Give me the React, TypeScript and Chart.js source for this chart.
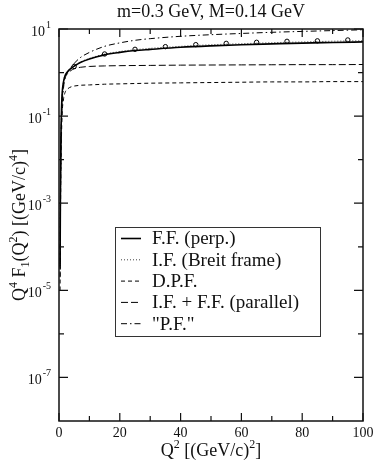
import React, { useEffect, useRef } from "react";
import { Chart, registerables } from "chart.js";

Chart.register(...registerables);

const TITLE = "m=0.3 GeV, M=0.14 GeV";
const Q2 = [0.35, 0.45, 0.6, 0.8, 1, 1.5, 2, 3, 4, 5, 7, 10, 15, 20, 25, 30, 40, 50, 60, 70, 80, 90, 100];
const FF_PERP = [3.5e-5, 1e-3, 0.02, 0.12, 0.3, 0.62, 0.85, 1.08, 1.25, 1.4, 1.7, 2.05, 2.55, 2.9, 3.2, 3.4, 3.8, 4.1, 4.35, 4.55, 4.75, 4.9, 5.05];
const IF_BREIT = [3.5e-5, 1e-3, 0.02, 0.12, 0.3, 0.63, 0.86, 1.1, 1.27, 1.42, 1.74, 2.12, 2.65, 3.05, 3.35, 3.6, 4.0, 4.35, 4.6, 4.85, 5.05, 5.25, 5.4];
const DPF = [1e-5, 2e-4, 4e-3, 0.03, 0.1, 0.25, 0.35, 0.43, 0.47, 0.49, 0.51, 0.52, 0.54, 0.55, 0.56, 0.57, 0.58, 0.59, 0.6, 0.61, 0.61, 0.62, 0.62];
const IF_FF_PAR = [3e-5, 8e-4, 0.015, 0.08, 0.2, 0.55, 0.75, 0.98, 1.12, 1.22, 1.32, 1.38, 1.42, 1.44, 1.45, 1.46, 1.48, 1.49, 1.5, 1.51, 1.52, 1.52, 1.53];
const PF = [2e-5, 5e-4, 0.01, 0.06, 0.15, 0.45, 0.74, 1.05, 1.35, 1.63, 2.2, 2.9, 4.0, 4.8, 5.5, 6.0, 6.8, 7.4, 7.9, 8.4, 8.8, 9.2, 9.6];
const CIRCLE_Q2 = [5, 15, 25, 35, 45, 55, 65, 75, 85, 95];
const CIRCLE_VAL = [1.38, 2.67, 3.42, 3.93, 4.37, 4.68, 4.95, 5.22, 5.35, 5.6];

const X_MAJOR = [0, 20, 40, 60, 80, 100];
const X_MINOR = [10, 30, 50, 70, 90];
const Y_MAJOR_EXP = [1, -1, -3, -5, -7];
const Y_MINOR_EXP = [0, -2, -4, -6];

const LEGEND_LABELS = ["F.F. (perp.)", "I.F. (Breit frame)", "D.P.F.", "I.F. + F.F. (parallel)", "\"P.F.\""];

const SERIF = "'Liberation Serif', 'Times New Roman', serif";
const INK = "#111";

function pts(xs: number[], ys: number[]) {
  return xs.map((x, i) => ({ x, y: ys[i] }));
}

function drawRich(ctx: CanvasRenderingContext2D, segs: { t: string; s: number; dy: number }[], cx: number, cy: number) {
  let total = 0;
  for (const g of segs) {
    ctx.font = `${g.s}px ${SERIF}`;
    total += ctx.measureText(g.t).width;
  }
  let x = cx - total / 2;
  ctx.textAlign = "left";
  ctx.textBaseline = "alphabetic";
  for (const g of segs) {
    ctx.font = `${g.s}px ${SERIF}`;
    ctx.fillText(g.t, x, cy + g.dy);
    x += ctx.measureText(g.t).width;
  }
}

const decorPlugin = {
  id: "decor",
  afterDraw(chart: any) {
    const ctx: CanvasRenderingContext2D = chart.ctx;
    const { left, right, top, bottom } = chart.chartArea;
    const xs = chart.scales.x;
    const ys = chart.scales.y;
    ctx.save();
    ctx.strokeStyle = INK;
    ctx.fillStyle = INK;
    // frame
    ctx.lineWidth = 1.5;
    ctx.setLineDash([]);
    ctx.strokeRect(left, top, right - left, bottom - top);
    // x ticks
    ctx.lineWidth = 1.2;
    const tickX = (v: number, len: number) => {
      const p = xs.getPixelForValue(v);
      ctx.beginPath();
      ctx.moveTo(p, bottom);
      ctx.lineTo(p, bottom - len);
      ctx.moveTo(p, top);
      ctx.lineTo(p, top + len);
      ctx.stroke();
    };
    X_MAJOR.forEach((v) => tickX(v, 8));
    X_MINOR.forEach((v) => tickX(v, 5));
    const tickY = (v: number, len: number) => {
      const p = ys.getPixelForValue(v);
      ctx.beginPath();
      ctx.moveTo(left, p);
      ctx.lineTo(left + len, p);
      ctx.moveTo(right, p);
      ctx.lineTo(right - len, p);
      ctx.stroke();
    };
    Y_MAJOR_EXP.forEach((e) => tickY(Math.pow(10, e), 9));
    Y_MINOR_EXP.forEach((e) => tickY(Math.pow(10, e), 5));
    // x tick labels
    ctx.font = `14px ${SERIF}`;
    ctx.textAlign = "center";
    ctx.textBaseline = "middle";
    X_MAJOR.forEach((v) => {
      ctx.fillText(String(v), xs.getPixelForValue(v), bottom + 12);
    });
    // y tick labels
    Y_MAJOR_EXP.forEach((e) => {
      const p = ys.getPixelForValue(Math.pow(10, e));
      ctx.font = `10px ${SERIF}`;
      const ew = ctx.measureText(String(e)).width;
      ctx.textAlign = "right";
      ctx.textBaseline = "middle";
      ctx.fillText(String(e), left - 8, p - 4);
      ctx.font = `14px ${SERIF}`;
      ctx.fillText("10", left - 9 - ew, p + 3);
    });
    // title
    ctx.font = `18px ${SERIF}`;
    ctx.textAlign = "center";
    ctx.textBaseline = "middle";
    ctx.fillText(TITLE, (left + right) / 2, 12);
    // x axis title
    drawRich(
      ctx,
      [
        { t: "Q", s: 18, dy: 0 },
        { t: "2", s: 12, dy: -8 },
        { t: " [(GeV/c)", s: 18, dy: 0 },
        { t: "2", s: 12, dy: -8 },
        { t: "]", s: 18, dy: 0 },
      ],
      (left + right) / 2,
      456
    );
    // y axis title
    ctx.save();
    ctx.translate(25, (top + bottom) / 2);
    ctx.rotate(-Math.PI / 2);
    drawRich(
      ctx,
      [
        { t: "Q", s: 18, dy: 0 },
        { t: "4", s: 12, dy: -8 },
        { t: " F", s: 18, dy: 0 },
        { t: "1", s: 12, dy: 4 },
        { t: "(Q", s: 18, dy: 0 },
        { t: "2", s: 12, dy: -8 },
        { t: ") [(GeV/c)", s: 18, dy: 0 },
        { t: "4", s: 12, dy: -8 },
        { t: "]", s: 18, dy: 0 },
      ],
      0,
      0
    );
    ctx.restore();
    // legend
    const bx = 115.5, by = 227.5, bw = 205, bh = 109;
    ctx.fillStyle = "#fff";
    ctx.fillRect(bx, by, bw, bh);
    ctx.lineWidth = 1;
    ctx.strokeStyle = "#333";
    ctx.strokeRect(bx, by, bw, bh);
    ctx.fillStyle = INK;
    LEGEND_LABELS.forEach((lab, i) => {
      const ds = chart.data.datasets[i];
      const y = 238.5 + i * 21.3;
      ctx.strokeStyle = ds.borderColor;
      ctx.lineWidth = ds.borderWidth;
      ctx.setLineDash(ds.borderDash || []);
      ctx.beginPath();
      ctx.moveTo(121, y);
      ctx.lineTo(141, y);
      ctx.stroke();
      ctx.setLineDash([]);
      ctx.font = `19px ${SERIF}`;
      ctx.textAlign = "left";
      ctx.textBaseline = "middle";
      ctx.fillText(lab, 152, y + 1);
    });
    ctx.restore();
  },
};

export default function App() {
  const ref = useRef<HTMLCanvasElement | null>(null);
  useEffect(() => {
    if (!ref.current) return;
    const common = { pointRadius: 0, fill: false, cubicInterpolationMode: "monotone" as const };
    const chart = new Chart(ref.current, {
      type: "line",
      data: {
        datasets: [
          { label: LEGEND_LABELS[0], data: pts(Q2, FF_PERP), borderColor: "#000", borderWidth: 1.6, borderDash: [], ...common },
          { label: LEGEND_LABELS[1], data: pts(Q2, IF_BREIT), borderColor: "#444", borderWidth: 1, borderDash: [1, 2], ...common },
          { label: LEGEND_LABELS[2], data: pts(Q2, DPF), borderColor: "#000", borderWidth: 1, borderDash: [4, 3], ...common },
          { label: LEGEND_LABELS[3], data: pts(Q2, IF_FF_PAR), borderColor: "#000", borderWidth: 1, borderDash: [7, 3], ...common },
          { label: LEGEND_LABELS[4], data: pts(Q2, PF), borderColor: "#000", borderWidth: 1, borderDash: [6, 3, 1.5, 3], ...common },
          {
            label: "points",
            data: pts(CIRCLE_Q2, CIRCLE_VAL),
            showLine: false,
            pointRadius: 2.2,
            pointBorderWidth: 1,
            pointBorderColor: "#000",
            pointBackgroundColor: "#fff",
            borderColor: "#000",
          },
        ],
      },
      options: {
        animation: false,
        responsive: false,
        layout: { padding: { left: 59, top: 29, right: 11, bottom: 43 } },
        plugins: { legend: { display: false }, title: { display: false }, tooltip: { enabled: false } },
        scales: {
          x: { type: "linear", min: 0, max: 100, display: false },
          y: { type: "logarithmic", min: 1e-8, max: 10, display: false },
        },
      },
      plugins: [decorPlugin],
    });
    return () => chart.destroy();
  }, []);
  return (
    <div style={{ position: "fixed", left: 0, top: 0, width: 374, height: 464, background: "#fff" }}>
      <canvas ref={ref} width={374} height={464} />
    </div>
  );
}
